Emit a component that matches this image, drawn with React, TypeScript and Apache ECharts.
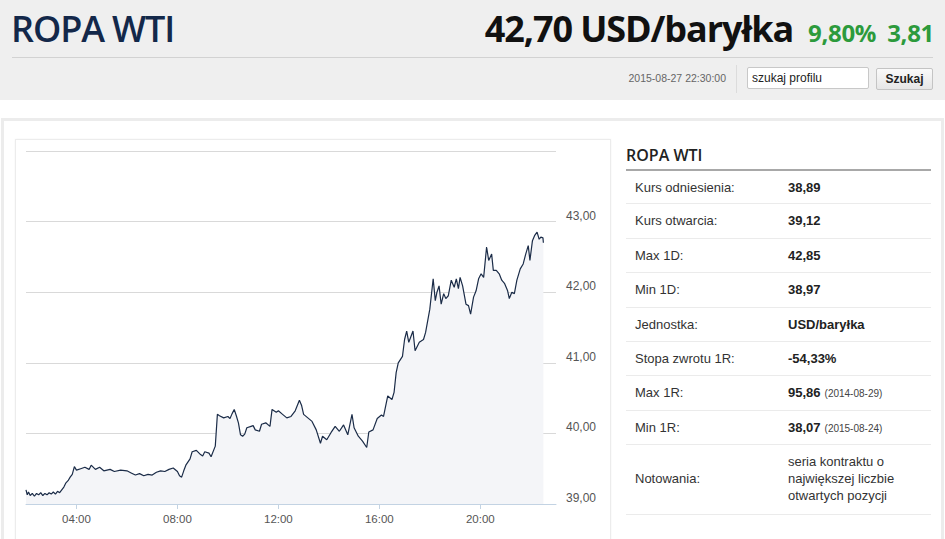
import React, { useEffect, useRef } from "react";
import * as echarts from "echarts";

const times = [
  "02:00","02:03","02:06","02:10","02:15","02:20","02:25","02:30","02:35","02:40","02:45","02:50","02:55",
  "03:00","03:05","03:10","03:15","03:20","03:25","03:30","03:35","03:40","03:45","03:50","03:55",
  "04:00","04:10","04:20","04:30","04:35","04:45","04:55","05:05","05:20","05:30","05:45",
  "06:00","06:10","06:20","06:30","06:40","06:50","07:00","07:10","07:20","07:30","07:40","07:50",
  "08:00","08:05","08:10","08:15","08:20","08:30","08:35","08:45","08:55","09:00","09:05","09:15","09:20","09:30","09:35","09:40","09:50",
  "10:00","10:05","10:10","10:15","10:20","10:25","10:30","10:35","10:40","10:45","10:55","11:00","11:05","11:15","11:20","11:30","11:40","11:45","11:55",
  "12:00","12:10","12:20","12:30","12:40","12:50","12:55","13:00","13:10","13:20","13:30","13:40","13:45","13:55",
  "14:05","14:15","14:25","14:35","14:45","14:55","15:00","15:10","15:20","15:30","15:35","15:45","15:55",
  "16:05","16:10","16:20","16:30","16:35","16:40","16:45","16:55","17:00","17:05","17:10","17:20","17:25","17:35","17:45","17:50",
  "18:00","18:08","18:13","18:17","18:22","18:27","18:33","18:38","18:44","18:51","18:58",
  "19:03","19:08","19:12","19:18","19:26","19:32","19:37","19:44","19:50","19:56",
  "20:02","20:08","20:15","20:20","20:27","20:31","20:38","20:45","20:51","20:58",
  "21:05","21:09","21:15","21:21","21:27","21:35","21:42","21:48","21:54","21:58",
  "22:04","22:09","22:15","22:20","22:24","22:29","22:30"
];

const prices = [
  39.20,39.13,39.17,39.12,39.15,39.11,39.15,39.13,39.16,39.12,39.15,39.13,39.16,
  39.14,39.17,39.14,39.18,39.16,39.20,39.24,39.30,39.33,39.38,39.42,39.53,
  39.48,39.50,39.52,39.49,39.55,39.49,39.52,39.47,39.49,39.46,39.48,
  39.47,39.44,39.41,39.43,39.40,39.42,39.41,39.45,39.47,39.46,39.49,39.51,
  39.46,39.40,39.38,39.47,39.55,39.64,39.74,39.76,39.70,39.68,39.74,39.72,39.67,39.82,40.27,40.25,40.22,
  40.24,40.21,40.28,40.34,40.25,40.15,39.98,39.96,39.99,40.08,40.10,40.11,40.05,40.03,40.13,40.15,40.10,40.34,40.30,
  40.32,40.27,40.22,40.24,40.32,40.47,40.40,40.27,40.22,40.17,40.05,39.86,39.96,39.91,
  40.01,40.10,40.03,40.12,39.98,40.27,40.08,39.96,39.89,39.80,40.02,40.05,40.21,
  40.26,40.24,40.53,40.48,40.58,40.86,41.00,41.09,41.33,41.45,41.29,41.45,41.17,41.29,41.33,41.43,
  41.76,42.19,41.88,42.00,42.09,41.83,41.98,41.91,41.95,42.17,42.07,
  42.19,42.05,42.21,42.09,41.83,41.81,41.69,41.93,42.02,42.19,
  42.26,42.21,42.64,42.45,42.54,42.31,42.31,42.26,42.17,42.12,
  42.02,41.91,42.00,41.98,42.17,42.33,42.40,42.54,42.66,42.45,
  42.73,42.80,42.85,42.75,42.78,42.77,42.70
];

const xTicks = [4, 8, 12, 16, 20];
const yMin = 39;
const yMax = 44;

const headerName = "ROPA WTI";
const headerPrice = "42,70 USD/baryłka";
const headerChangePct = "9,80%";
const headerChange = "3,81";
const timestamp = "2015-08-27 22:30:00";

const tableRows: { label: string; value: string; note?: string }[] = [
  { label: "Kurs odniesienia:", value: "38,89" },
  { label: "Kurs otwarcia:", value: "39,12" },
  { label: "Max 1D:", value: "42,85" },
  { label: "Min 1D:", value: "38,97" },
  { label: "Jednostka:", value: "USD/baryłka" },
  { label: "Stopa zwrotu 1R:", value: "-54,33%" },
  { label: "Max 1R:", value: "95,86", note: "(2014-08-29)" },
  { label: "Min 1R:", value: "38,07", note: "(2015-08-24)" },
];
const lastRowLabel = "Notowania:";
const lastRowValue = ["seria kontraktu o", "największej liczbie", "otwartych pozycji"];

function toHours(t: string) {
  const [h, m] = t.split(":").map(Number);
  return h + m / 60;
}

function pad(n: number) {
  return n < 10 ? "0" + n : "" + n;
}

function Chart() {
  const ref = useRef<HTMLDivElement>(null);
  useEffect(() => {
    if (!ref.current) return;
    const chart = echarts.init(ref.current, undefined, { renderer: "svg" });
    const data = times.map((t, i) => [toHours(t), prices[i]]);
    chart.setOption({
      animation: false,
      grid: { left: 11, right: 54, top: 11, bottom: 31 },
      xAxis: {
        type: "value",
        min: 2,
        max: 23,
        splitLine: { show: false },
        axisLine: { show: true, lineStyle: { color: "#c3d3e3", width: 1 } },
        axisTick: { show: true, customValues: xTicks, length: 5, lineStyle: { color: "#c3d3e3" } },
        axisLabel: {
          customValues: xTicks,
          formatter: (v: number) => pad(Math.round(v)) + ":00",
          color: "#555",
          fontSize: 11.5,
          fontFamily: "Arial, 'Liberation Sans', sans-serif",
          margin: 9,
        },
      },
      yAxis: {
        type: "value",
        position: "right",
        min: yMin,
        max: yMax,
        interval: 1,
        axisLine: { show: false },
        axisTick: { show: false },
        splitLine: { show: true, lineStyle: { color: "#d9d9d9", width: 1 } },
        axisLabel: {
          formatter: (v: number) => (v >= yMax ? "" : v.toFixed(2).replace(".", ",")),
          color: "#555",
          fontSize: 12,
          fontFamily: "Arial, 'Liberation Sans', sans-serif",
          margin: 10,
          verticalAlign: "bottom",
        },
      },
      series: [
        {
          type: "line",
          data,
          showSymbol: false,
          symbol: "none",
          lineStyle: { color: "#1b2c48", width: 1.2 },
          areaStyle: { color: "#f4f5f8", origin: "start", opacity: 1 },
        },
      ],
    });
    return () => chart.dispose();
  }, []);
  return <div ref={ref} style={{ width: 595, height: 395 }} />;
}

export default function App() {
  const font = "Arial, 'Liberation Sans', sans-serif";
  const rowH = 34.4;
  const tableTop = 170;
  return (
    <div
      style={{
        position: "fixed",
        left: 0,
        top: 0,
        width: 945,
        height: 539,
        background: "#fff",
        overflow: "hidden",
        fontFamily: font,
      }}
    >
      {/* Header */}
      <div style={{ position: "absolute", left: 0, top: 0, width: 945, height: 100, background: "#efefef" }}>
        <div
          style={{
            position: "absolute",
            left: 11,
            top: 6,
            fontFamily: "'Open Sans', sans-serif",
            fontWeight: 600,
            fontSize: 36,
            letterSpacing: -1.1,
            color: "#13284a",
            lineHeight: "46px",
          }}
        >
          {headerName}
        </div>
        <div
          style={{
            position: "absolute",
            right: 11,
            top: 6,
            lineHeight: "46px",
            whiteSpace: "nowrap",
            fontFamily: "'Open Sans', sans-serif",
          }}
        >
          <span style={{ fontWeight: 700, fontSize: 36, letterSpacing: -1.1, color: "#111" }}>{headerPrice}</span>
          <span style={{ fontWeight: 700, fontSize: 24, letterSpacing: -0.3, color: "#2c9a3c", marginLeft: 15 }}>
            {headerChangePct}
          </span>
          <span style={{ fontWeight: 700, fontSize: 24, letterSpacing: -0.3, color: "#2c9a3c", marginLeft: 11 }}>
            {headerChange}
          </span>
        </div>
        <div style={{ position: "absolute", left: 12, top: 57, width: 921, height: 1, background: "#d2d2d2" }} />
        <div
          style={{
            position: "absolute",
            left: 600,
            width: 126,
            top: 72,
            textAlign: "right",
            fontSize: 10.5,
            color: "#666",
          }}
        >
          {timestamp}
        </div>
        <div style={{ position: "absolute", left: 736, top: 65, width: 1, height: 28, background: "#dcdcdc" }} />
        <div
          style={{
            position: "absolute",
            left: 747,
            top: 67,
            width: 122,
            height: 22,
            background: "#fff",
            border: "1px solid #c8c8c8",
            borderRadius: 2,
            boxSizing: "border-box",
            fontSize: 12,
            color: "#222",
            lineHeight: "20px",
            paddingLeft: 4,
          }}
        >
          szukaj profilu
        </div>
        <div
          style={{
            position: "absolute",
            left: 876,
            top: 68,
            width: 57,
            height: 22,
            background: "linear-gradient(#fafafa, #e6e6e6)",
            border: "1px solid #c4c4c4",
            borderRadius: 2,
            boxSizing: "border-box",
            fontSize: 12,
            fontWeight: 700,
            color: "#222",
            lineHeight: "20px",
            textAlign: "center",
          }}
        >
          Szukaj
        </div>
      </div>

      {/* Content box */}
      <div
        style={{
          position: "absolute",
          left: 1,
          top: 118,
          width: 943,
          height: 440,
          border: "3px solid #ececec",
          boxSizing: "border-box",
          background: "#fff",
        }}
      />

      {/* Chart panel */}
      <div
        style={{
          position: "absolute",
          left: 15,
          top: 139,
          width: 596,
          height: 410,
          border: "1px solid #ececec",
          boxSizing: "border-box",
          boxShadow: "0 0 2px rgba(0,0,0,0.05)",
        }}
      />
      <div style={{ position: "absolute", left: 15, top: 140 }}>
        <Chart />
      </div>

      {/* Right table */}
      <div
        style={{
          position: "absolute",
          left: 626,
          top: 144,
          fontFamily: "'Open Sans', sans-serif",
          fontWeight: 600,
          fontSize: 16,
          color: "#222",
          lineHeight: "22px",
        }}
      >
        {headerName}
      </div>
      <div style={{ position: "absolute", left: 626, top: 169, width: 305, height: 2, background: "#a8a8a8" }} />
      {tableRows.map((r, i) => (
        <div
          key={r.label}
          style={{
            position: "absolute",
            left: 626,
            top: Math.round(tableTop + i * rowH) + (i === 0 ? 1 : 0),
            width: 305,
            height: Math.round(tableTop + (i + 1) * rowH) - Math.round(tableTop + i * rowH) - (i === 0 ? 1 : 0),
            borderBottom: "1px solid #ebebeb",
            boxSizing: "border-box",
            fontSize: 13,
            color: "#333",
          }}
        >
          <div style={{ position: "absolute", left: 9, top: 0, lineHeight: "34px" }}>{r.label}</div>
          <div style={{ position: "absolute", left: 162, top: 0, lineHeight: "34px", whiteSpace: "nowrap" }}>
            <span style={{ fontWeight: 700, color: "#222" }}>{r.value}</span>
            {r.note ? <span style={{ fontSize: 10, color: "#444", marginLeft: 4 }}>{r.note}</span> : null}
          </div>
        </div>
      ))}
      <div
        style={{
          position: "absolute",
          left: 626,
          top: Math.round(tableTop + tableRows.length * rowH),
          width: 305,
          height: 70,
          borderBottom: "1px solid #ebebeb",
          boxSizing: "border-box",
          fontSize: 13,
          color: "#333",
        }}
      >
        <div style={{ position: "absolute", left: 9, top: 0, lineHeight: "68px" }}>{lastRowLabel}</div>
        <div style={{ position: "absolute", left: 162, top: 8, lineHeight: "17px" }}>
          {lastRowValue.map((l) => (
            <div key={l}>{l}</div>
          ))}
        </div>
      </div>
    </div>
  );
}
